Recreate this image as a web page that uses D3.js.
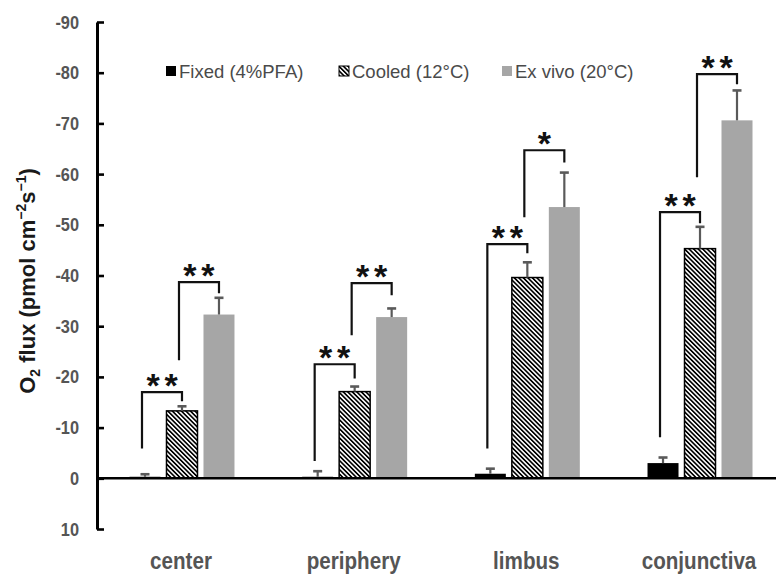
<!DOCTYPE html>
<html>
<head>
<meta charset="utf-8">
<script src="https://cdn.jsdelivr.net/npm/d3@7"></script>
<style>
  html, body { margin: 0; padding: 0; background: #fff; }
  svg { display: block; }
</style>
</head>
<body>
<svg id="chart" width="776" height="575"></svg>
<script>
// ---------------- data ----------------
const categories = ["center", "periphery", "limbus", "conjunctiva"];
const seriesNames = ["Fixed (4%PFA)", "Cooled (12°C)", "Ex vivo (20°C)"];
const fixedVals  = [-0.3, -0.3, -0.9, -3.0];
const fixedErr   = [0.5, 1.1, 1.0, 1.1];
const cooledVals = [-13.3, -17.1, -39.6, -45.3];
const cooledErr  = [0.9, 1.0, 3.0, 4.3];
const exVals     = [-32.3, -31.8, -53.5, -70.6];
const exErr      = [3.3, 1.7, 6.8, 5.9];
const yTicks = [-90, -80, -70, -60, -50, -40, -30, -20, -10, 0, 10];

// significance brackets (data units): fixed vs cooled, cooled vs ex vivo
const sig1Level = [-17.0, -22.5, -46.2, -52.5];
const sig1LeftFoot = [-5.9, -3.4, -5.9, -8.1];
const sig1RightFoot = [-15.2, -19.7, -44.4, -50.3];
const sig1Label = ["**", "**", "**", "**"];
const sig2Level = [-38.7, -38.5, -64.7, -79.7];
const sig2LeftFoot = [-23.3, -28.2, -51.5, -59.4];
const sig2RightFoot = [-36.5, -36.1, -62.3, -77.7];
const sig2Label = ["**", "**", "*", "**"];

// ---------------- layout ----------------
const svg = d3.select("#chart");
const W = 776;

const y = d3.scaleLinear().domain([10, -90]).range([529, 22]);
const x0 = d3.scaleBand().domain(categories).range([96, 786])
  .paddingInner(0.392).paddingOuter(0.194);
const x1 = d3.scaleBand().domain(seriesNames).range([0, x0.bandwidth()])
  .paddingInner(0.162).paddingOuter(0);

const seriesVals = [fixedVals, cooledVals, exVals];
const seriesErr = [fixedErr, cooledErr, exErr];

// hatch pattern
const defs = svg.append("defs");
const pat = defs.append("pattern")
  .attr("id", "hatch")
  .attr("patternUnits", "userSpaceOnUse")
  .attr("width", 3.2).attr("height", 3.2)
  .attr("patternTransform", "rotate(-45)");
pat.append("rect").attr("width", 3.2).attr("height", 3.2).attr("fill", "#fff");
pat.append("line").attr("x1", 0.8).attr("y1", 0).attr("x2", 0.8).attr("y2", 3.2)
  .attr("stroke", "#000").attr("stroke-width", 1.7);

const fills = ["#000000", "url(#hatch)", "#a6a6a6"];
const strokes = ["none", "#000", "none"];

// bars
const rows = [];
categories.forEach((c, i) => {
  seriesNames.forEach((s, j) => {
    rows.push({ cat: c, ser: s, j: j, v: seriesVals[j][i], e: seriesErr[j][i] });
  });
});

const gBars = svg.append("g");
gBars.selectAll("rect").data(rows).enter().append("rect")
  .attr("x", d => x0(d.cat) + x1(d.ser))
  .attr("y", d => y(Math.min(0, d.v)))
  .attr("width", x1.bandwidth())
  .attr("height", d => Math.abs(y(d.v) - y(0)))
  .attr("fill", d => fills[d.j])
  .attr("stroke", d => strokes[d.j])
  .attr("stroke-width", 1.5);

// error bars (upper side only)
const gErr = svg.append("g").attr("stroke", "#5a5a5a").attr("fill", "none");
rows.forEach(d => {
  const cx = x0(d.cat) + x1(d.ser) + x1.bandwidth() / 2;
  gErr.append("line")
    .attr("x1", cx).attr("x2", cx)
    .attr("y1", y(d.v)).attr("y2", y(d.v - d.e))
    .attr("stroke-width", 2.2);
  gErr.append("line")
    .attr("x1", cx - 4.5).attr("x2", cx + 4.5)
    .attr("y1", y(d.v - d.e)).attr("y2", y(d.v - d.e))
    .attr("stroke-width", 2.6);
});

// zero line
svg.append("line")
  .attr("x1", 96).attr("x2", W)
  .attr("y1", y(0)).attr("y2", y(0))
  .attr("stroke", "#000").attr("stroke-width", 2.6);

// y axis
const yAxis = d3.axisLeft(y).tickValues(yTicks)
  .tickSizeInner(-7).tickSizeOuter(0).tickPadding(18)
  .tickFormat(d => String(d));
const gy = svg.append("g").attr("transform", "translate(97,0)").call(yAxis);
gy.select(".domain").attr("stroke", "#000").attr("stroke-width", 3);
gy.selectAll(".tick line").attr("stroke", "#000").attr("stroke-width", 2.6);
gy.selectAll(".tick text").each(function () {
  const t = d3.select(this);
  const x = +t.attr("x");
  t.attr("x", null)
   .attr("transform", `translate(${x},0) scale(0.86,1)`)
   .attr("fill", "#555")
   .attr("font-family", "'Liberation Sans', Arial, sans-serif")
   .attr("font-weight", "bold")
   .attr("font-size", 19);
});

// y-axis title
const title = svg.append("text")
  .attr("transform", "translate(35,281) rotate(-90)")
  .attr("text-anchor", "middle")
  .attr("font-family", "'Liberation Sans', Arial, sans-serif")
  .attr("font-weight", "bold")
  .attr("font-size", 22)
  .attr("fill", "#1a1a1a");
title.append("tspan").text("O");
title.append("tspan").attr("font-size", 14).attr("dy", 5).text("2");
title.append("tspan").attr("dy", -5).text(" flux (pmol cm");
title.append("tspan").attr("font-size", 14).attr("dy", -9).text("−2");
title.append("tspan").attr("dy", 9).text("s");
title.append("tspan").attr("font-size", 14).attr("dy", -9).text("−1");
title.append("tspan").attr("dy", 9).text(")");

// category labels (condensed bold)
svg.append("g").selectAll("text").data(categories).enter().append("text")
  .attr("transform", d => `translate(${x0(d) + x0.bandwidth() / 2 - 1},569) scale(0.86,1)`)
  .attr("text-anchor", "middle")
  .attr("font-family", "'Liberation Sans', Arial, sans-serif")
  .attr("font-weight", "bold")
  .attr("font-size", 24)
  .attr("fill", "#555")
  .text(d => d);

// significance brackets
function cx(i, j) { return x0(categories[i]) + x1(seriesNames[j]) + x1.bandwidth() / 2; }
const gSig = svg.append("g");
function drawSig(level, lf, rf, labels, jl, jr) {
  categories.forEach((c, i) => {
    const xl = cx(i, jl) - 3, xr = cx(i, jr);
    gSig.append("path")
      .attr("d", `M${xl},${y(lf[i])}V${y(level[i])}H${xr}V${y(rf[i])}`)
      .attr("fill", "none").attr("stroke", "#111").attr("stroke-width", 2.2);
    const n = labels[i].length, mid = (xl + xr) / 2;
    for (let k = 0; k < n; k++) {
      gSig.append("text")
        .attr("x", mid + (k - (n - 1) / 2) * 18)
        .attr("y", y(level[i]) + 5)
        .attr("text-anchor", "middle")
        .attr("font-family", "'Liberation Sans', Arial, sans-serif")
        .attr("font-weight", "bold")
        .attr("font-size", 34)
        .attr("fill", "#111")
        .text("*");
    }
  });
}
drawSig(sig1Level, sig1LeftFoot, sig1RightFoot, sig1Label, 0, 1);
drawSig(sig2Level, sig2LeftFoot, sig2RightFoot, sig2Label, 1, 2);

// legend
const legendX = [166, 339, 502];
const gLeg = svg.append("g");
seriesNames.forEach((s, j) => {
  gLeg.append("rect")
    .attr("x", legendX[j]).attr("y", 66)
    .attr("width", 10).attr("height", 10)
    .attr("fill", fills[j])
    .attr("stroke", strokes[j]).attr("stroke-width", 1);
  gLeg.append("text")
    .attr("x", legendX[j] + 13).attr("y", 78)
    .attr("font-family", "'Liberation Sans', Arial, sans-serif")
    .attr("font-size", 18.5)
    .attr("fill", "#4a4a4a")
    .text(s);
});
</script>
</body>
</html>
